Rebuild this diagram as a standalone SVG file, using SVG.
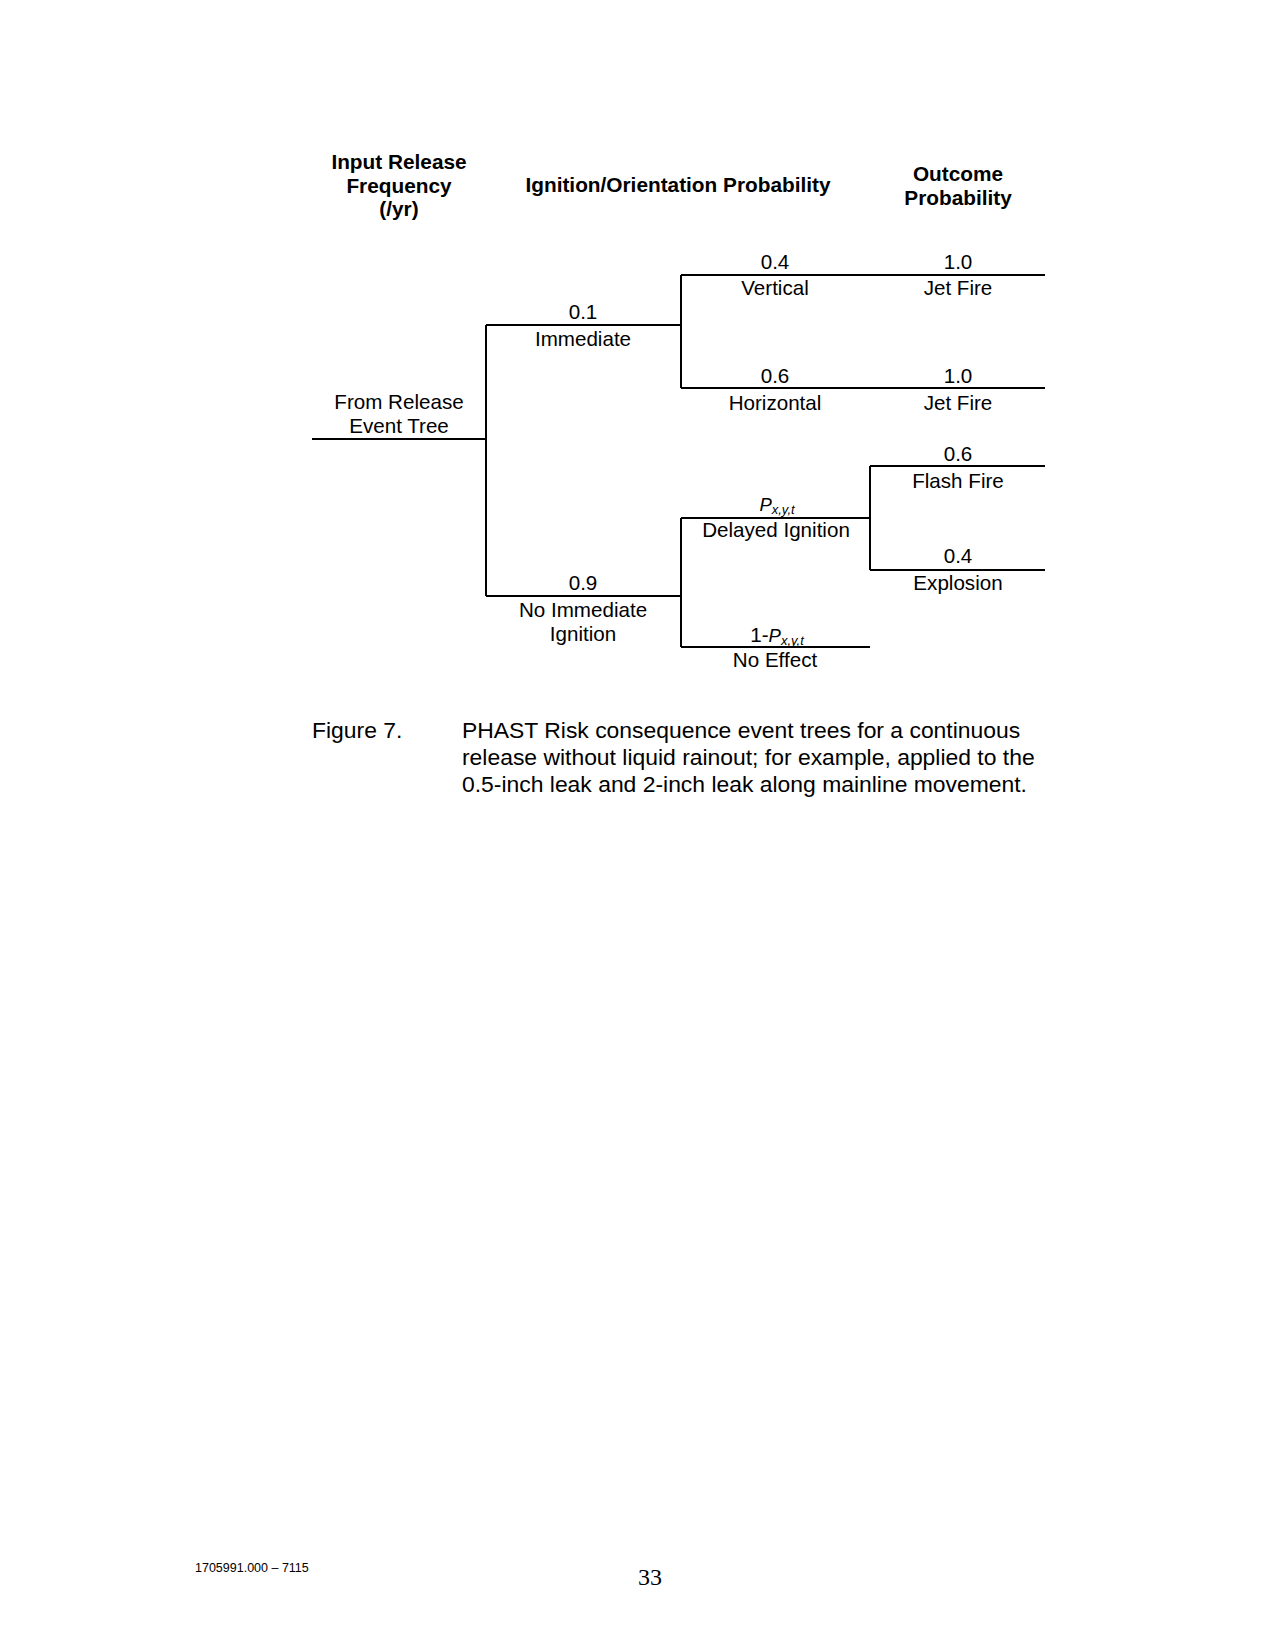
<svg xmlns="http://www.w3.org/2000/svg" width="1275" height="1651" viewBox="0 0 1275 1651">
<style>
.lbl{font-family:"Liberation Sans",Arial,sans-serif;font-size:20.6px;fill:#000;text-anchor:middle}
.hdr{font-family:"Liberation Sans",Arial,sans-serif;font-size:20.8px;font-weight:bold;fill:#000;text-anchor:middle}
.cap{font-family:"Liberation Sans",Arial,sans-serif;font-size:22.9px;fill:#000}
.it{font-style:italic}
.edge{stroke:#000;stroke-width:2;fill:none}
</style>
<rect width="1275" height="1651" fill="#fff"/>
<g id="headers">
<text class="hdr" x="399" y="169">Input Release</text>
<text class="hdr" x="399" y="193">Frequency</text>
<text class="hdr" x="399" y="216">(/yr)</text>
<text class="hdr" x="678" y="192">Ignition/Orientation Probability</text>
<text class="hdr" x="958" y="181">Outcome</text>
<text class="hdr" x="958" y="205">Probability</text>
</g>
<g id="connectors">
<path class="edge" d="M312,439 H486 M486,325 V596 M486,325 H681 M486,596 H681"/>
<path class="edge" d="M681,275 V388 M681,275 H1045 M681,388 H1045"/>
<path class="edge" d="M681,518 V647 M681,518 H870 M681,647 H870"/>
<path class="edge" d="M870,466 V570 M870,466 H1045 M870,570 H1045"/>
</g>
<g id="node-release">
<text class="lbl" x="399" y="409">From Release</text>
<text class="lbl" x="399" y="433">Event Tree</text>
</g>
<g id="node-immediate">
<text class="lbl" x="583" y="319">0.1</text>
<text class="lbl" x="583" y="346">Immediate</text>
</g>
<g id="node-no-immediate">
<text class="lbl" x="583" y="590">0.9</text>
<text class="lbl" x="583" y="617">No Immediate</text>
<text class="lbl" x="583" y="641">Ignition</text>
</g>
<g id="node-vertical">
<text class="lbl" x="775" y="269">0.4</text>
<text class="lbl" x="775" y="295">Vertical</text>
</g>
<g id="node-horizontal">
<text class="lbl" x="775" y="383">0.6</text>
<text class="lbl" x="775" y="410">Horizontal</text>
</g>
<g id="node-delayed">
<text class="lbl" x="777" y="511"><tspan class="it" font-size="18.5">P</tspan><tspan class="it" font-size="13" dy="3">x,y,t</tspan></text>
<text class="lbl" x="776" y="537">Delayed Ignition</text>
</g>
<g id="node-no-effect">
<text class="lbl" x="777" y="642">1-<tspan class="it" font-size="18.5">P</tspan><tspan class="it" font-size="13" dy="3">x,y,t</tspan></text>
<text class="lbl" x="775" y="667">No Effect</text>
</g>
<g id="node-jet1">
<text class="lbl" x="958" y="269">1.0</text>
<text class="lbl" x="958" y="295">Jet Fire</text>
</g>
<g id="node-jet2">
<text class="lbl" x="958" y="383">1.0</text>
<text class="lbl" x="958" y="410">Jet Fire</text>
</g>
<g id="node-flash">
<text class="lbl" x="958" y="461">0.6</text>
<text class="lbl" x="958" y="488">Flash Fire</text>
</g>
<g id="node-explosion">
<text class="lbl" x="958" y="563">0.4</text>
<text class="lbl" x="958" y="590">Explosion</text>
</g>
<g id="caption">
<text class="cap" x="312" y="738">Figure 7.</text>
<text class="cap" x="462" y="738">PHAST Risk consequence event trees for a continuous</text>
<text class="cap" x="462" y="765">release without liquid rainout; for example, applied to the</text>
<text class="cap" x="462" y="792">0.5-inch leak and 2-inch leak along mainline movement.</text>
</g>
<g id="footer">
<text x="195" y="1572" font-family="'Liberation Sans',Arial,sans-serif" font-size="12.5">1705991.000 – 7115</text>
<text x="650" y="1585" font-family="'Liberation Serif','Times New Roman',serif" font-size="24" text-anchor="middle">33</text>
</g>
</svg>
